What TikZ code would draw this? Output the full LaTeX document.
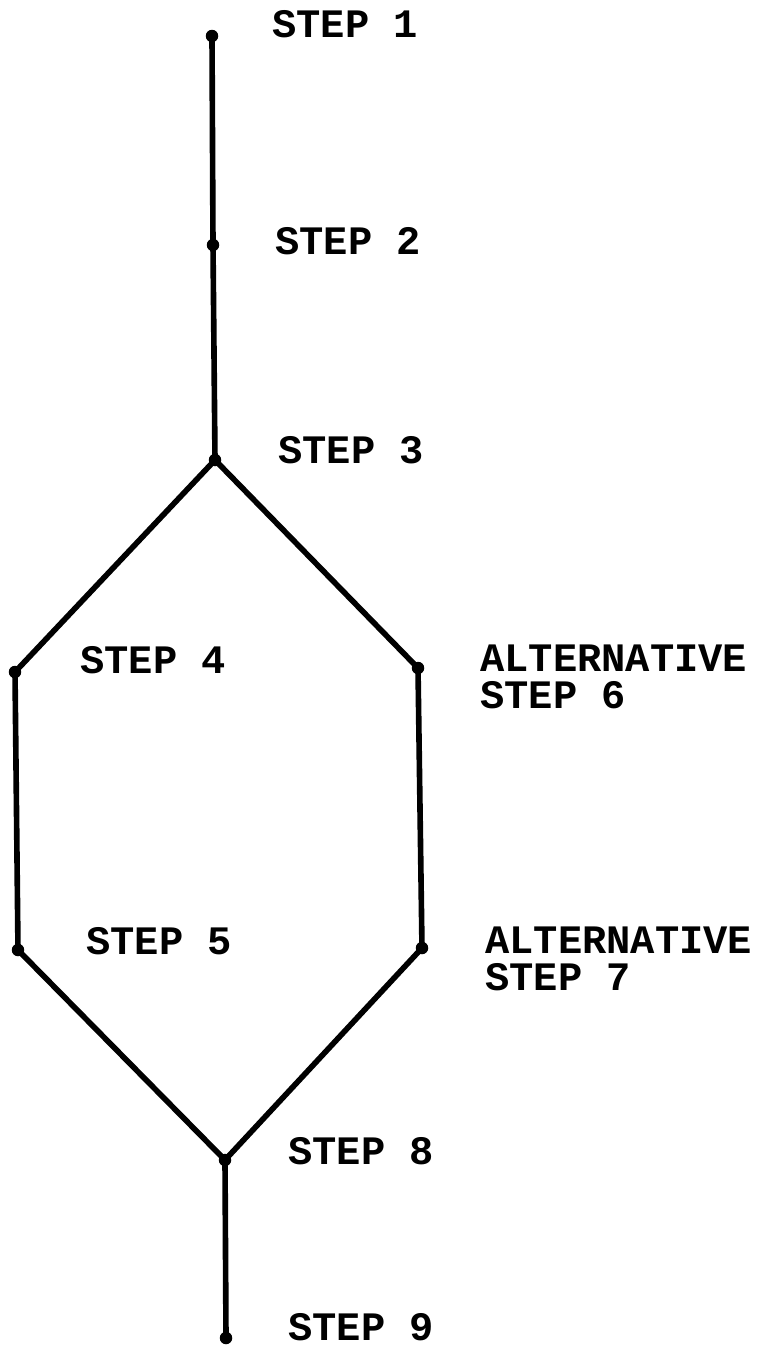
\documentclass[tikz,border=0pt]{standalone}
\usepackage{fontspec}
\newfontfamily\tw{Liberation Mono}
\begin{document}
\begin{tikzpicture}[x=0.02cm,y=-0.02cm,
  pt/.style={circle,fill=black,inner sep=0pt,minimum size=0.25cm},
  edge/.style={line width=3.2pt,line cap=round,line join=round},
  lbl/.style={anchor=base west,inner sep=0pt,font=\tw\bfseries\fontsize{23}{21}\selectfont,align=left}]
\useasboundingbox (0,0) rectangle (764,1347);
\node[pt] (s1) at (212,36) {};
\node[pt] (s2) at (213,245) {};
\node[pt] (s3) at (215,460) {};
\node[pt] (s4) at (15,672) {};
\node[pt] (s6) at (418,668) {};
\node[pt] (s5) at (18,950) {};
\node[pt] (s7) at (422,948) {};
\node[pt] (s8) at (225,1160) {};
\node[pt] (s9) at (226,1338) {};
\draw[edge] (s1.center) -- (s2.center) -- (s3.center) -- (s4.center) -- (s5.center) -- (s8.center) -- (s9.center);
\draw[edge] (s3.center) -- (s6.center) -- (s7.center) -- (s8.center);
\node[lbl] (l1) at (272,37) {STEP 1};
\node[lbl] (l2) at (275,254) {STEP 2};
\node[lbl] (l3) at (278,463) {STEP 3};
\node[lbl] (l4) at (80,673) {STEP 4};
\node[lbl] (l6) at (480,708) {ALTERNATIVE\\STEP 6};
\node[lbl] (l5) at (86,954) {STEP 5};
\node[lbl] (l7) at (485,990) {ALTERNATIVE\\STEP 7};
\node[lbl] (l8) at (288,1164) {STEP 8};
\node[lbl] (l9) at (288,1340) {STEP 9};
\end{tikzpicture}
\end{document}
